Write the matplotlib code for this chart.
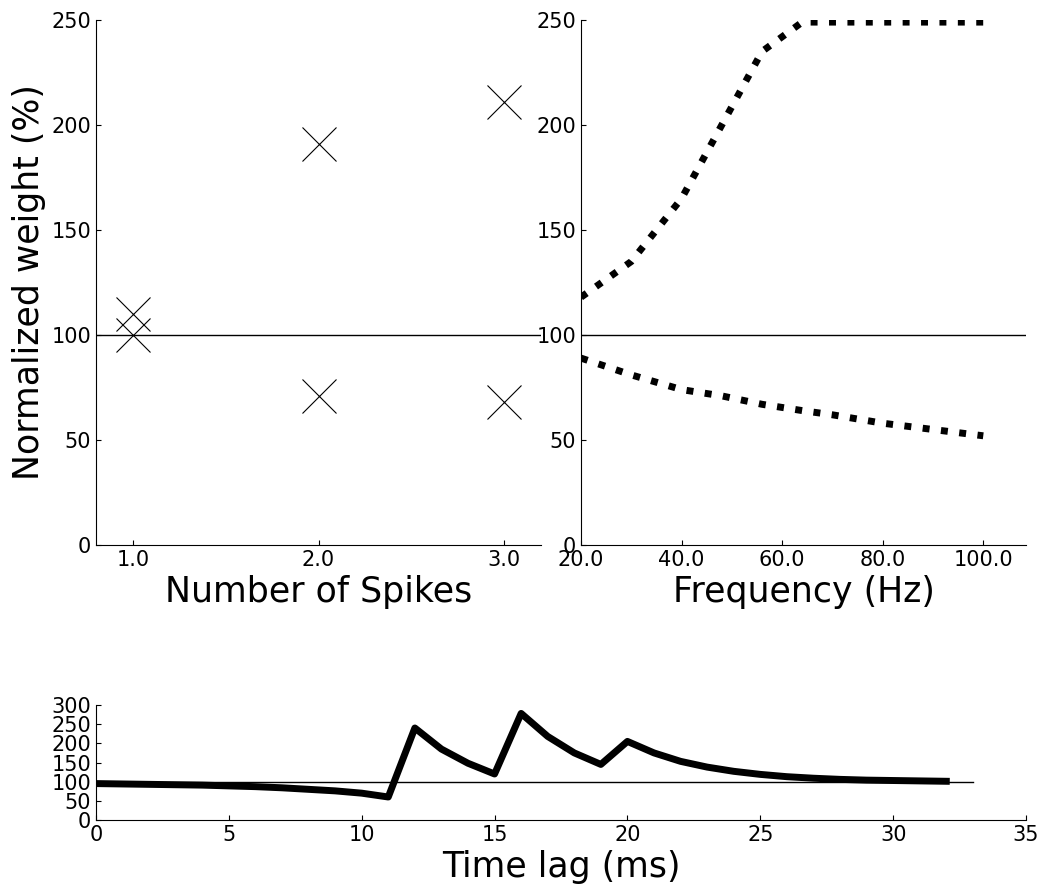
import matplotlib
matplotlib.use("Agg")
import matplotlib.pyplot as plt

spikes = [1, 1, 2, 2, 3, 3]
spike_w = [110, 100, 191, 71, 211, 68]

freq = [20, 30, 40, 48, 56, 64, 70, 80, 90, 100]
freq_up = [118, 135, 165, 200, 235, 249, 249, 249, 249, 249]
freq_lo = [89, 81, 74, 71, 67, 64, 62, 58, 55, 52]

lag = list(range(33))
lag_w = [95, 94, 93, 92, 91, 89, 87, 84, 80, 76, 70, 60, 240, 185, 148, 120,
         278, 218, 175, 145, 205, 175, 153, 138, 127, 119, 113, 109, 106, 104,
         103, 102, 101]


def style(ax):
    ax.spines['top'].set_visible(False)
    ax.spines['right'].set_visible(False)
    ax.tick_params(labelsize=15, direction='in', top=False, right=False)


fig = plt.figure(figsize=(10.49, 8.96), dpi=100)
ax1 = fig.add_axes([96 / 1049, 1 - 545 / 896, 445 / 1049, 525 / 896])
ax2 = fig.add_axes([581 / 1049, 1 - 545 / 896, 445 / 1049, 525 / 896])
ax3 = fig.add_axes([96 / 1049, 1 - 820 / 896, 930 / 1049, 115 / 896])

ax1.plot(spikes, spike_w, 'x', color='black', markersize=24, mew=0.8)
ax1.axhline(100, color='black', lw=1)
ax1.set_xlim(0.8, 3.2)
ax1.set_ylim(0, 250)
ax1.set_xticks([1, 2, 3])
ax1.set_xticklabels(['1.0', '2.0', '3.0'])
ax1.set_xlabel('Number of Spikes', fontsize=25)
ax1.set_ylabel('Normalized weight (%)', fontsize=25)
style(ax1)

ax2.plot(freq, freq_up, ':', color='black', lw=5)
ax2.plot(freq, freq_lo, ':', color='black', lw=5)
ax2.axhline(100, color='black', lw=1)
ax2.set_xlim(20, 108.5)
ax2.set_ylim(0, 250)
ax2.set_xticks([20, 40, 60, 80, 100])
ax2.set_xticklabels(['20.0', '40.0', '60.0', '80.0', '100.0'])
ax2.set_xlabel('Frequency (Hz)', fontsize=25)
style(ax2)

ax3.plot(lag, lag_w, color='black', lw=5)
ax3.plot([0, 33], [100, 100], color='black', lw=1)
ax3.set_xlim(0, 35)
ax3.set_ylim(0, 300)
ax3.set_yticks(range(0, 301, 50))
ax3.set_xlabel('Time lag (ms)', fontsize=25)
style(ax3)

fig.savefig('out.png', dpi=100)
